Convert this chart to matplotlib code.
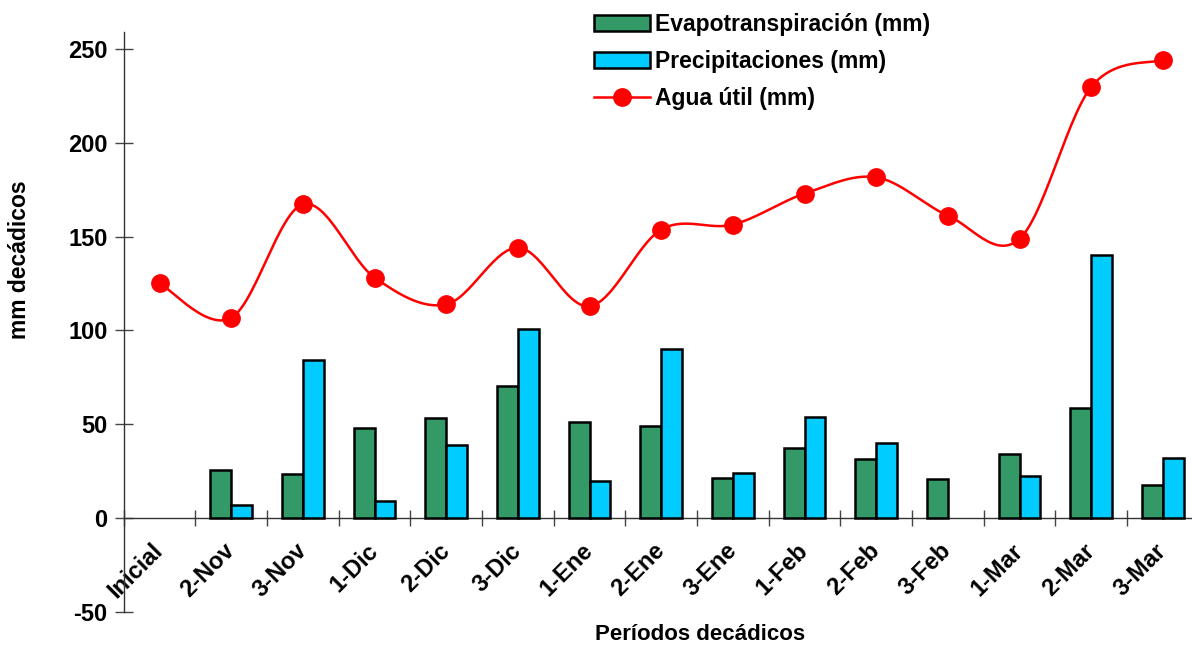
import numpy as np
import matplotlib
matplotlib.use('Agg')
import matplotlib.pyplot as plt
from matplotlib.patches import Patch

plt.rcParams['font.family'] = ['Liberation Sans', 'DejaVu Sans']
plt.rcParams['font.weight'] = 'bold'
plt.rcParams['axes.unicode_minus'] = False

periodos = ['Inicial', '2-Nov', '3-Nov', '1-Dic', '2-Dic', '3-Dic', '1-Ene', '2-Ene',
            '3-Ene', '1-Feb', '2-Feb', '3-Feb', '1-Mar', '2-Mar', '3-Mar']
evapo = [0, 25.4, 23.5, 48.0, 53.4, 70.6, 51.1, 49.3, 21.2, 37.5, 31.3, 20.8, 34.3, 58.9, 17.6]
precip = [0, 7.1, 84.0, 9.1, 39.0, 100.9, 19.9, 90.0, 24.2, 54.1, 40.0, 0, 22.2, 140.0, 32.2]
agua_util = [125.1, 106.7, 167.2, 128.2, 113.9, 144.1, 112.9, 153.7, 156.4, 172.9,
             181.6, 161.2, 148.8, 229.7, 244.1]

verde = '#339966'
celeste = '#00CCFF'
rojo = '#FF0000'


def suavizar(x, y, n=30):
    # curva tipo Excel (bezier con puntos de control a 1/6)
    x = np.asarray(x, float)
    y = np.asarray(y, float)
    px = np.concatenate([[x[0]], x, [x[-1]]])
    py = np.concatenate([[y[0]], y, [y[-1]]])
    xs, ys = [], []
    t = np.linspace(0, 1, n)
    for i in range(1, len(px) - 2):
        p0 = np.array([px[i], py[i]])
        p3 = np.array([px[i + 1], py[i + 1]])
        c1 = p0 + (np.array([px[i + 1], py[i + 1]]) - np.array([px[i - 1], py[i - 1]])) / 6
        c2 = p3 - (np.array([px[i + 2], py[i + 2]]) - np.array([px[i], py[i]])) / 6
        b = ((1 - t) ** 3)[:, None] * p0 + (3 * (1 - t) ** 2 * t)[:, None] * c1 \
            + (3 * (1 - t) * t ** 2)[:, None] * c2 + (t ** 3)[:, None] * p3
        xs.extend(b[:, 0])
        ys.extend(b[:, 1])
    return np.array(xs), np.array(ys)


fig = plt.figure(figsize=(11.92, 6.48), dpi=100)
ax = fig.add_axes([123.7 / 1192, 36 / 648, 1075 / 1192, 580 / 648])

x = np.arange(len(periodos))
w = 0.29
b1 = ax.bar(x - w / 2, evapo, w, color=verde, edgecolor='black', linewidth=1.8, zorder=3)
b2 = ax.bar(x + w / 2, precip, w, color=celeste, edgecolor='black', linewidth=1.8, zorder=3)
# barras de valor cero no se dibujan
for rects, vals in ((b1, evapo), (b2, precip)):
    for r, v in zip(rects, vals):
        if v == 0:
            r.set_visible(False)

sx, sy = suavizar(x, agua_util)
ax.plot(sx, sy, color=rojo, linewidth=1.8, zorder=4)
ax.plot(x, agua_util, 'o', color=rojo, markersize=12.5, zorder=5)

ax.set_xlim(-0.5, len(periodos) - 0.5)
ax.set_ylim(-50, 259)
ax.set_yticks(np.arange(-50, 251, 50))
ax.set_xticks(x)
ax.set_xticks(np.arange(-0.5, len(periodos), 1), minor=True)
ax.set_xticklabels(periodos)

for s in ['top', 'right']:
    ax.spines[s].set_visible(False)
ax.spines['bottom'].set_position(('data', 0))
for s in ['bottom', 'left']:
    ax.spines[s].set_color('#333333')
    ax.spines[s].set_linewidth(1.0)

ax.tick_params(axis='x', which='major', length=0, pad=21, labelsize=17)
ax.tick_params(axis='x', which='minor', direction='inout', length=12, width=1, color='#444444')
ax.tick_params(axis='y', direction='inout', length=13, width=1, color='#444444', labelsize=17, pad=5)
for lab in ax.get_xticklabels():
    lab.set_rotation(45)
    lab.set_ha('right')
    lab.set_va('center')
    lab.set_rotation_mode('anchor')
    lab.set_fontweight('bold')
for lab in ax.get_yticklabels():
    lab.set_fontweight('bold')

fig.text(20 / 1192, 1 - 260 / 648, 'mm decádicos', rotation=90, ha='center', va='center',
         fontsize=16.5, fontweight='bold')
fig.text(700 / 1192, 1 - 635 / 648, 'Períodos decádicos', ha='center', va='center',
         fontsize=16, fontweight='bold')

h1 = Patch(facecolor=verde, edgecolor='black', linewidth=1.8)
h2 = Patch(facecolor=celeste, edgecolor='black', linewidth=1.8)
h3 = plt.Line2D([], [], color=rojo, linewidth=1.8, marker='o', markersize=12.5)
fig.legend([h1, h2, h3], ['Evapotranspiración (mm)', 'Precipitaciones (mm)', 'Agua útil (mm)'],
           loc='upper left', bbox_to_anchor=(594 / 1192, 1 - 13 / 648), frameon=False,
           handlelength=2.45, handleheight=0.7, handletextpad=0.22,
           labelspacing=0.62, borderpad=0, borderaxespad=0,
           prop={'weight': 'bold', 'size': 16.5})

fig.savefig('out.png', dpi=100)
